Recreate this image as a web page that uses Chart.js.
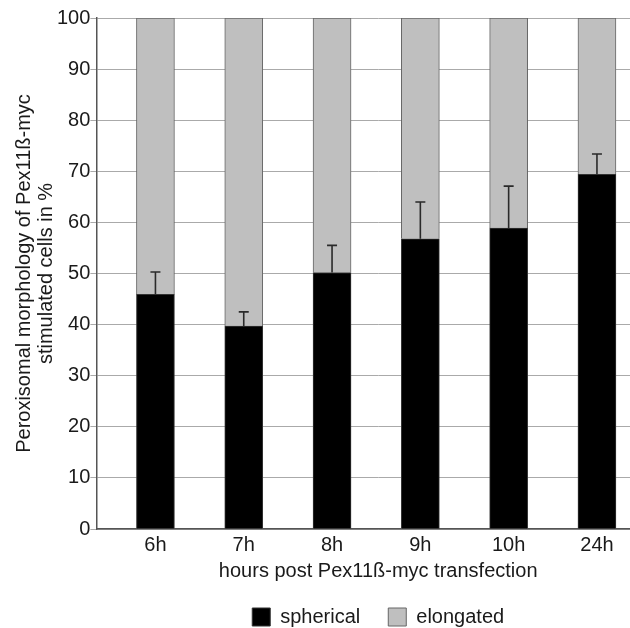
<!DOCTYPE html>
<html>
<head>
<meta charset="utf-8">
<script src="https://cdn.jsdelivr.net/npm/chart.js@4/dist/chart.umd.min.js"></script>
<style>
    html, body { margin: 0; padding: 0; background: #fff; }
    #wrap { width: 630px; height: 628px; overflow: hidden; }
</style>
</head>
<body>
<div id="wrap">
    <canvas id="morphChart" width="660" height="628"></canvas>
</div>
<script>
// Data
const categories = ['6h', '7h', '8h', '9h', '10h', '24h'];
const spherical = [45.9, 39.7, 50.2, 56.8, 58.9, 69.4];
const elongated = [54.1, 60.3, 49.8, 43.2, 41.1, 30.6];
const sphericalErr = [4.4, 2.8, 5.3, 7.2, 8.2, 4.0];
const yTicks = [0, 10, 20, 30, 40, 50, 60, 70, 80, 90, 100];

const FONT = '"Liberation Sans", Arial, Helvetica, sans-serif';
Chart.defaults.font.family = FONT;
Chart.defaults.font.size = 20;
Chart.defaults.color = '#1a1a1a';

// Upper error bars on the spherical (black) segment
const errorBars = {
    id: 'errorBars',
    afterDatasetsDraw(chart) {
        const ctx = chart.ctx;
        const x = chart.scales.x;
        const y = chart.scales.y;
        ctx.save();
        ctx.strokeStyle = '#2a2a2a';
        ctx.lineWidth = 1.6;
        spherical.forEach(function (v, i) {
            const px = x.getPixelForValue(i);
            const top = y.getPixelForValue(v);
            const end = y.getPixelForValue(v + sphericalErr[i]);
            ctx.beginPath();
            ctx.moveTo(px, top);
            ctx.lineTo(px, end);
            ctx.moveTo(px - 5, end);
            ctx.lineTo(px + 5, end);
            ctx.stroke();
        });
        ctx.restore();
    }
};

function toPoints(arr) {
    return arr.map(function (v, i) { return { x: i, y: v }; });
}

new Chart(document.getElementById('morphChart'), {
    type: 'bar',
    data: {
        datasets: [{
            label: 'spherical',
            data: toPoints(spherical),
            backgroundColor: '#000000',
            borderColor: '#333333',
            borderWidth: 1,
            barThickness: 38
        }, {
            label: 'elongated',
            data: toPoints(elongated),
            backgroundColor: '#bfbfbf',
            borderColor: '#666666',
            borderWidth: 1,
            barThickness: 38
        }]
    },
    options: {
        responsive: false,
        animation: false,
        layout: { padding: { top: 18, bottom: -9 } },
        plugins: {
            legend: {
                position: 'bottom',
                fullSize: false,
                labels: {
                    boxWidth: 18,
                    boxHeight: 18,
                    padding: 28,
                    color: '#1a1a1a',
                    font: { size: 20 }
                }
            },
            tooltip: { enabled: false }
        },
        scales: {
            x: {
                type: 'linear',
                stacked: true,
                offset: false,
                min: -0.669,
                max: 5.714,
                afterBuildTicks: function (scale) {
                    scale.ticks = categories.map(function (c, i) { return { value: i }; });
                },
                ticks: {
                    autoSkip: false,
                    maxRotation: 0,
                    padding: 4,
                    callback: function (value) { return categories[value]; }
                },
                grid: { display: false, drawTicks: false, offset: false },
                border: { display: true, color: '#555555', width: 1.5 },
                title: {
                    display: true,
                    text: 'hours post Pex11ß-myc transfection',
                    padding: { top: -2, bottom: -4 },
                    font: { size: 20 }
                }
            },
            y: {
                stacked: true,
                min: 0,
                max: 100,
                afterBuildTicks: function (scale) {
                    scale.ticks = yTicks.map(function (v) { return { value: v }; });
                },
                ticks: { padding: 0 },
                grid: { color: '#aaaaaa', lineWidth: 1, tickLength: 6 },
                border: { display: true, color: '#555555', width: 1.5 },
                title: {
                    display: true,
                    text: ['Peroxisomal morphology of Pex11ß-myc', 'stimulated cells in %'],
                    padding: { top: 13, bottom: 0 },
                    font: { size: 20, lineHeight: 1.1 }
                }
            }
        }
    },
    plugins: [errorBars]
});
</script>
</body>
</html>
